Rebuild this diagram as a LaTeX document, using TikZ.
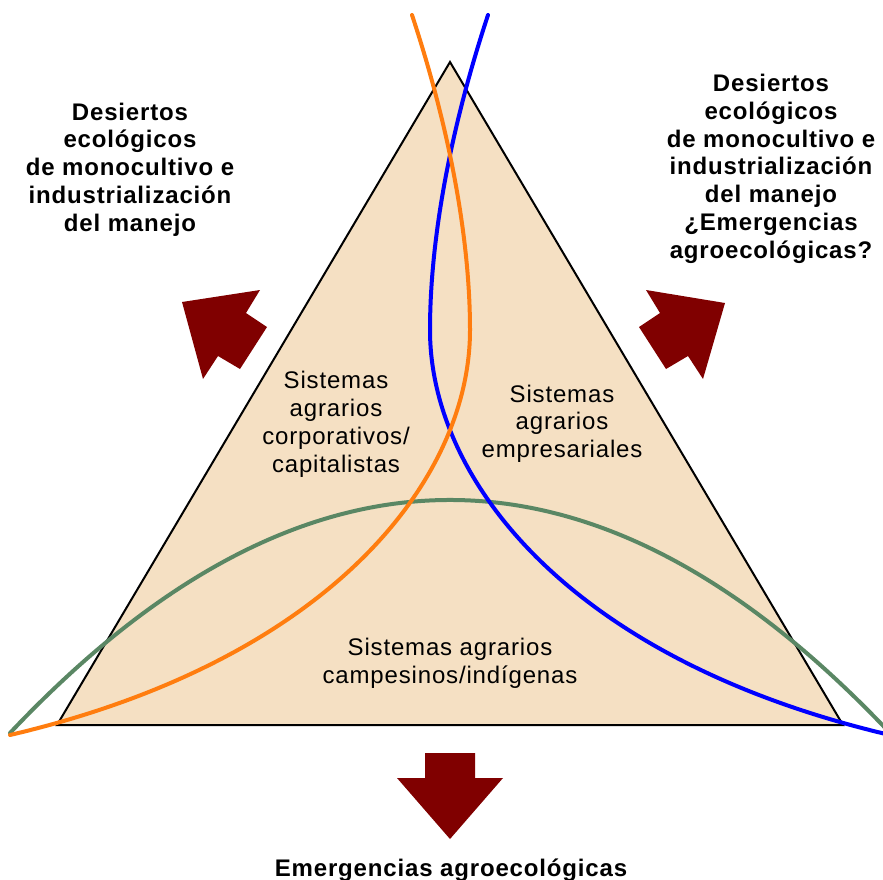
\documentclass[tikz,border=0pt]{standalone}
\usepackage{fontspec}
\setmainfont{Liberation Sans}[LetterSpace=3.5]
\definecolor{tanfill}{RGB}{245,224,195}
\definecolor{orangec}{RGB}{255,125,15}
\definecolor{greenc}{RGB}{90,135,100}
\definecolor{bluec}{RGB}{0,0,255}
\definecolor{arrowc}{RGB}{128,0,0}
\tikzset{
  lbl/.style={align=center, inner sep=0pt, anchor=base, font=\fontsize{24}{27.7}\selectfont},
  blbl/.style={lbl, font=\fontsize{24}{27.7}\selectfont\bfseries},
  curve/.style={line width=4pt, line cap=round},
  bigarrow/.style={fill=arrowc, draw=none}
}
\begin{document}
\begin{tikzpicture}[x=1pt,y=-1pt]
\useasboundingbox (0,0) rectangle (883,879);
% triangle
\draw[fill=tanfill, line width=2pt, line join=miter] (450,62) -- (843,725) -- (57,725) -- cycle;
% curves
\draw[curve, greenc] (10,733) .. controls (303.3,422.3) and (596.7,422.3) .. (890,733);
\draw[curve, bluec] (488,15) .. controls (450,130) and (430,240) .. (430,330)
   .. controls (430,480) and (570,660) .. (890,735);
\draw[curve, orangec] (412,15) .. controls (450,130) and (470,240) .. (470,330)
   .. controls (470,480) and (330,660) .. (10,735);
% arrows
\fill[bigarrow] (182,302) -- (260,290) -- (246,313) -- (267,327) -- (240,369) -- (218,356) -- (203,379) -- cycle;
\fill[bigarrow] (725,303) -- (703,379) -- (688,356) -- (666,369) -- (639,327) -- (660,313) -- (646,290) -- cycle;
\fill[bigarrow] (425,753) -- (475,753) -- (475,778) -- (503,778) -- (450,839) -- (397,778) -- (425,778) -- cycle;
% labels (anchor = baseline of last line)
\node[blbl] (tl) at (130,231) {Desiertos\\ecológicos\\de monocultivo e\\industrialización\\del manejo};
\node[blbl] (tr) at (771,258) {Desiertos\\ecológicos\\de monocultivo e\\industrialización\\del manejo\\¿Emergencias\\agroecológicas?};
\node[blbl] (bot) at (451,876) {Emergencias agroecológicas};
\node[lbl] (corp) at (336,472) {Sistemas\\agrarios\\corporativos/\\capitalistas};
\node[lbl] (emp) at (562,457.5) {Sistemas\\agrarios\\empresariales};
\node[lbl] (camp) at (450,683) {Sistemas agrarios\\campesinos/indígenas};
\end{tikzpicture}
\end{document}
